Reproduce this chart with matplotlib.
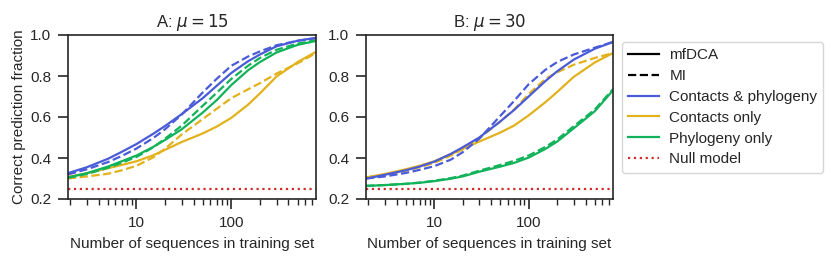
import matplotlib
matplotlib.use("Agg")
import matplotlib.pyplot as plt
import numpy as np
from matplotlib.lines import Line2D

plt.rcParams['font.family'] = ['Liberation Sans', 'DejaVu Sans']
plt.rcParams['mathtext.fontset'] = 'dejavusans'

x = [1.9, 3, 5, 7, 10, 15, 20, 30, 50, 70, 100, 150, 200, 300, 500, 780]

# Panel A: mu = 15
A_both_dca = [0.326, 0.355, 0.396, 0.430, 0.468, 0.518, 0.556, 0.614, 0.692, 0.752, 0.815, 0.872, 0.905, 0.945, 0.972, 0.986]
A_both_mi  = [0.320, 0.345, 0.380, 0.410, 0.446, 0.497, 0.540, 0.612, 0.720, 0.786, 0.850, 0.895, 0.920, 0.950, 0.972, 0.985]
A_cont_dca = [0.308, 0.325, 0.350, 0.366, 0.384, 0.413, 0.440, 0.478, 0.520, 0.553, 0.596, 0.660, 0.715, 0.798, 0.868, 0.918]
A_cont_mi  = [0.300, 0.310, 0.323, 0.340, 0.362, 0.403, 0.445, 0.515, 0.590, 0.640, 0.692, 0.735, 0.765, 0.812, 0.862, 0.912]
A_phyl_dca = [0.305, 0.326, 0.358, 0.384, 0.412, 0.454, 0.488, 0.540, 0.622, 0.682, 0.756, 0.828, 0.868, 0.915, 0.952, 0.971]
A_phyl_mi  = [0.303, 0.322, 0.352, 0.377, 0.405, 0.452, 0.494, 0.558, 0.655, 0.718, 0.786, 0.850, 0.888, 0.928, 0.958, 0.975]

# Panel B: mu = 30
B_both_dca = [0.299, 0.318, 0.340, 0.358, 0.382, 0.420, 0.452, 0.500, 0.578, 0.634, 0.700, 0.775, 0.823, 0.880, 0.933, 0.966]
B_both_mi  = [0.300, 0.310, 0.327, 0.342, 0.360, 0.392, 0.428, 0.494, 0.605, 0.678, 0.760, 0.830, 0.868, 0.905, 0.938, 0.966]
B_cont_dca = [0.305, 0.322, 0.345, 0.362, 0.384, 0.418, 0.445, 0.480, 0.524, 0.558, 0.608, 0.672, 0.722, 0.796, 0.866, 0.912]
B_cont_mi  = [0.305, 0.318, 0.338, 0.355, 0.376, 0.412, 0.442, 0.496, 0.578, 0.636, 0.712, 0.785, 0.818, 0.855, 0.888, 0.912]
B_phyl_dca = [0.264, 0.268, 0.274, 0.279, 0.287, 0.299, 0.310, 0.333, 0.358, 0.376, 0.402, 0.444, 0.480, 0.545, 0.628, 0.730]
B_phyl_mi  = [0.264, 0.268, 0.274, 0.280, 0.289, 0.302, 0.314, 0.338, 0.366, 0.386, 0.412, 0.454, 0.490, 0.555, 0.636, 0.736]

null_value = 0.25

titles = ["A: $\\mu = 15$", "B: $\\mu = 30$"]
legend_labels = ["mfDCA", "MI", "Contacts & phylogeny", "Contacts only", "Phylogeny only", "Null model"]

c_blue = "#4a5bd8"
c_yel = "#e2b21c"
c_green = "#12b25a"
c_red = "#d42a2a"
txt = '#262626'

fig = plt.figure(figsize=(8.31, 2.61), dpi=100)
axA = fig.add_axes([68/831, 1-199/261, 248/831, 164/261])
axB = fig.add_axes([366/831, 1-199/261, 247/831, 164/261])

panels = [
    (axA, A_both_dca, A_both_mi, A_cont_dca, A_cont_mi, A_phyl_dca, A_phyl_mi),
    (axB, B_both_dca, B_both_mi, B_cont_dca, B_cont_mi, B_phyl_dca, B_phyl_mi),
]
lw = 1.6
for i, (ax, bd, bm, cd, cm, pd_, pm) in enumerate(panels):
    ax.plot(x, cd, color=c_yel, lw=lw, ls='-')
    ax.plot(x, cm, color=c_yel, lw=lw, ls='--')
    ax.plot(x, pd_, color=c_green, lw=lw, ls='-')
    ax.plot(x, pm, color=c_green, lw=lw, ls='--')
    ax.plot(x, bd, color=c_blue, lw=lw, ls='-')
    ax.plot(x, bm, color=c_blue, lw=lw, ls='--')
    ax.plot([x[0], x[-1]], [null_value, null_value], color=c_red, lw=1.6, ls=':')
    ax.set_xscale('log')
    ax.set_xlim(x[0], x[-1])
    ax.set_ylim(0.2, 1.0)
    ax.set_yticks([0.2, 0.4, 0.6, 0.8, 1.0])
    ax.set_yticklabels(["0.2", "0.4", "0.6", "0.8", "1.0"])
    ax.set_xticks([10, 100])
    ax.set_xticklabels(["10", "100"])
    ax.tick_params(axis='both', which='major', length=7, width=1.2, labelsize=11, colors=txt, pad=5)
    ax.tick_params(axis='x', which='minor', length=4.5, width=1.0, colors=txt)
    for s in ax.spines.values():
        s.set_linewidth(1.2)
        s.set_color(txt)
    ax.set_xlabel("Number of sequences in training set", fontsize=11, color=txt, labelpad=5)
    ax.set_title(titles[i], fontsize=12, color=txt, pad=6)
axA.set_ylabel("Correct prediction fraction", fontsize=11, color=txt, labelpad=3)

handles = [
    Line2D([], [], color='black', lw=lw, ls='-'),
    Line2D([], [], color='black', lw=lw, ls='--'),
    Line2D([], [], color=c_blue, lw=lw),
    Line2D([], [], color=c_yel, lw=lw),
    Line2D([], [], color=c_green, lw=lw),
    Line2D([], [], color=c_red, lw=1.6, ls=':'),
]
leg = fig.legend(handles, legend_labels, loc='upper left', bbox_to_anchor=(622/831, 1-42/261),
           fontsize=11, frameon=True, handlelength=2.0, borderaxespad=0, labelspacing=0.45,
           handletextpad=0.7, borderpad=0.4, edgecolor='#cccccc', fancybox=True)
for t in leg.get_texts():
    t.set_color(txt)

fig.savefig("out.png", dpi=100)
